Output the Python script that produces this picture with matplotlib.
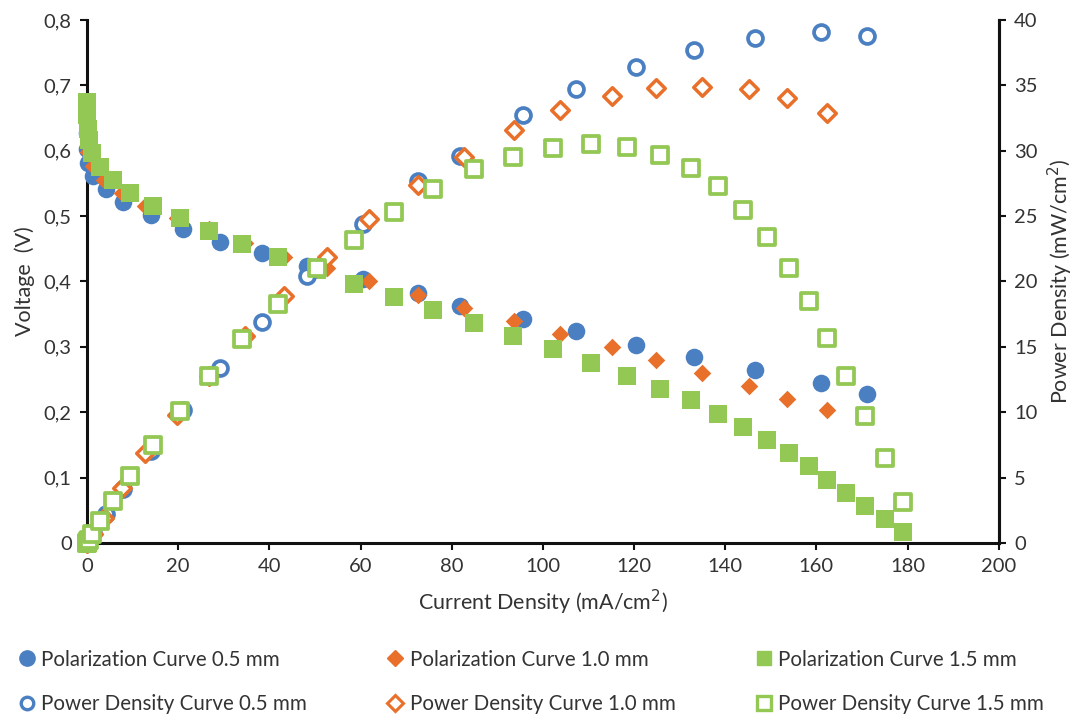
import matplotlib
matplotlib.use("Agg")
import matplotlib.pyplot as plt
from matplotlib.lines import Line2D
from matplotlib.ticker import FuncFormatter

plt.rcParams['font.family'] = ['Lato', 'DejaVu Sans']

# 0.5 mm
i_05 = [0, 0.05, 0.3, 1.3, 4.2, 7.9, 14.1, 21.1, 29.1, 38.3, 48.2, 60.6, 72.7, 81.9,
        95.6, 107.3, 120.5, 133.1, 146.6, 161.0, 171.1]
v_05 = [0.627, 0.602, 0.582, 0.562, 0.542, 0.522, 0.501, 0.481, 0.461, 0.443, 0.423,
        0.404, 0.383, 0.363, 0.343, 0.324, 0.303, 0.284, 0.264, 0.244, 0.228]
p_05 = [0, 0.06, 0.23, 0.73, 2.2, 4.1, 7.05, 10.2, 13.4, 16.9, 20.4, 24.4, 27.7, 29.6,
        32.7, 34.7, 36.4, 37.7, 38.6, 39.1, 38.8]

# 1.0 mm
i_10 = [0, 0.3, 1.3, 3.7, 7.7, 12.8, 19.8, 26.7, 34.6, 43.2, 52.6, 61.9, 72.5, 82.6,
        93.6, 103.7, 115.2, 124.9, 134.8, 145.2, 153.5, 162.3]
v_10 = [0.657, 0.598, 0.576, 0.556, 0.536, 0.516, 0.497, 0.48, 0.459, 0.438, 0.42, 0.40,
        0.379, 0.359, 0.339, 0.32, 0.30, 0.28, 0.26, 0.24, 0.22, 0.204]
p_10 = [0, 0.15, 0.7, 1.9, 4.2, 6.9, 9.8, 12.8, 15.8, 18.9, 21.9, 24.8, 27.4, 29.5,
        31.6, 33.1, 34.2, 34.8, 34.9, 34.7, 34.0, 32.9]

# 1.5 mm
i_15 = [0, 0.05, 0.2, 0.4, 1.1, 2.9, 5.7, 9.5, 14.5, 20.3, 26.7, 34.1, 41.9, 50.4, 58.6,
        67.4, 76.0, 84.8, 93.4, 102.2, 110.6, 118.5, 125.8, 132.6, 138.5, 143.8, 149.1,
        154.0, 158.4, 162.3, 166.5, 170.7, 175.1, 179.1]
v_15 = [0.674, 0.654, 0.634, 0.616, 0.596, 0.575, 0.556, 0.535, 0.515, 0.497, 0.477,
        0.458, 0.437, 0.417, 0.396, 0.377, 0.357, 0.337, 0.316, 0.296, 0.276, 0.256,
        0.236, 0.218, 0.198, 0.178, 0.158, 0.137, 0.117, 0.097, 0.077, 0.057, 0.037, 0.017]
p_15 = [0, 0.03, 0.13, 0.25, 0.66, 1.7, 3.2, 5.1, 7.5, 10.1, 12.8, 15.6, 18.3, 21.0,
        23.2, 25.3, 27.1, 28.6, 29.5, 30.2, 30.5, 30.3, 29.7, 28.7, 27.3, 25.5, 23.4,
        21.0, 18.5, 15.7, 12.8, 9.7, 6.5, 3.1]

blue = '#4A7FC1'
orange = '#E8702A'
green = '#92C853'
txt = '#333333'

fig = plt.figure(figsize=(10.73, 7.17), dpi=100)
ax = fig.add_axes([0.0811, 0.2427, 0.8497, 0.7294])
ax2 = ax.twinx()

# polarization curves (left axis)
ax.scatter(i_05, v_05, s=160, marker='o', color=blue, linewidths=0, clip_on=False, zorder=3)
ax.scatter(i_10, v_10, s=80, marker='D', color=orange, linewidths=0, clip_on=False, zorder=4)
ax.scatter(i_15, v_15, s=160, marker='s', color=green, linewidths=0, clip_on=False, zorder=5)

# power density curves (right axis)
ax2.scatter(i_05, p_05, s=115, marker='o', facecolors='white', edgecolors=blue,
            linewidths=2.7, clip_on=False, zorder=3)
ax2.scatter(i_10, p_10, s=80, marker='D', facecolors='white', edgecolors=orange,
            linewidths=2.5, clip_on=False, zorder=4)
ax2.scatter(i_15, p_15, s=140, marker='s', facecolors='white', edgecolors=green,
            linewidths=2.7, clip_on=False, zorder=5)

ax.set_xlim(0, 200)
ax.set_ylim(0, 0.8)
ax2.set_ylim(0, 40)
ax.set_xticks(range(0, 201, 20))
ax.set_yticks([i / 10 for i in range(9)])
ax2.set_yticks(range(0, 41, 5))
ax.yaxis.set_major_formatter(FuncFormatter(lambda v, p: '0' if v == 0 else ('%.1f' % v).replace('.', ',')))

for a in (ax, ax2):
    a.spines['top'].set_visible(False)
    for s in a.spines.values():
        s.set_linewidth(2.2)
        s.set_color('#111111')
    a.tick_params(direction='out', length=5, width=1.5, labelsize=14.5, colors='#111111',
                  labelcolor=txt, pad=6)
ax2.spines['left'].set_visible(False)
ax2.spines['bottom'].set_visible(False)

ax.set_xlabel('Current Density (mA/cm$^2$)', fontsize=15.5, color=txt, labelpad=9)
ax.set_ylabel('Voltage  (V)', fontsize=15.5, color=txt, labelpad=6)
ax2.set_ylabel('Power Density (mW/cm$^2$)', fontsize=15.5, color=txt, labelpad=6)

handles = [
    Line2D([], [], ls='none', marker='o', ms=11, color=blue, mec=blue),
    Line2D([], [], ls='none', marker='o', ms=9, mfc='white', mec=blue, mew=2.4),
    Line2D([], [], ls='none', marker='D', ms=8, color=orange, mec=orange),
    Line2D([], [], ls='none', marker='D', ms=8, mfc='white', mec=orange, mew=2.2),
    Line2D([], [], ls='none', marker='s', ms=10, color=green, mec=green),
    Line2D([], [], ls='none', marker='s', ms=10, mfc='white', mec=green, mew=2.4),
]
labels = ['Polarization Curve 0.5 mm', 'Power Density Curve 0.5 mm',
          'Polarization Curve 1.0 mm', 'Power Density Curve 1.0 mm',
          'Polarization Curve 1.5 mm', 'Power Density Curve 1.5 mm']
fig.legend(handles, labels, ncol=3, loc='lower left', bbox_to_anchor=(0.0, -0.022),
           frameon=False, fontsize=14.8, labelcolor=txt, handlelength=0.8,
           handletextpad=0.3, columnspacing=3.9, labelspacing=1.2)

fig.savefig('out.png', dpi=100)
